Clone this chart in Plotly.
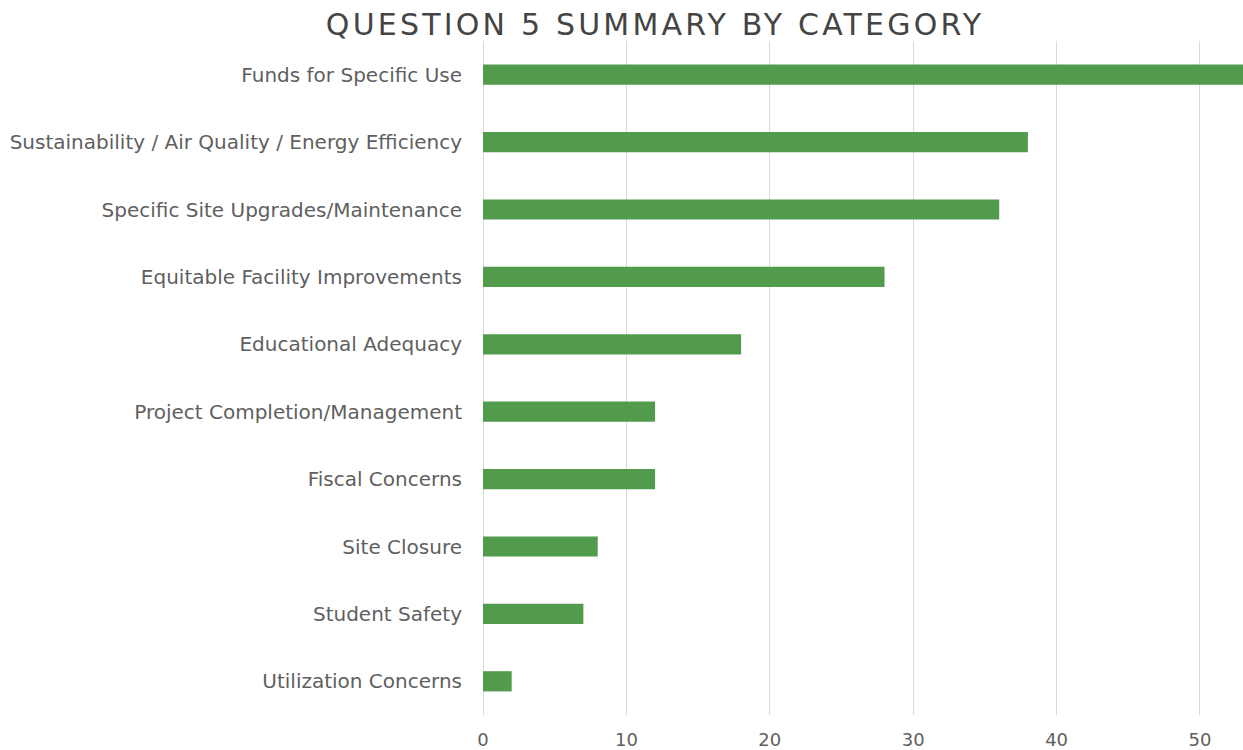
import plotly.graph_objects as go

categories = [
    "Funds for Specific Use",
    "Sustainability / Air Quality / Energy Efficiency",
    "Specific Site Upgrades/Maintenance",
    "Equitable Facility Improvements",
    "Educational Adequacy",
    "Project Completion/Management",
    "Fiscal Concerns",
    "Site Closure",
    "Student Safety",
    "Utilization Concerns",
]
values = [53, 38, 36, 28, 18, 12, 12, 8, 7, 2]
x_ticks = [0, 10, 20, 30, 40, 50]
title_text = "QUESTION 5 SUMMARY BY CATEGORY"

FONT = "DejaVu Sans, Verdana, sans-serif"

fig = go.Figure(go.Bar(
    x=values,
    y=categories,
    orientation="h",
    marker=dict(color="#529A4C", line=dict(width=0)),
    width=0.3,
))

fig.update_layout(
    width=1243, height=750,
    margin=dict(l=483, r=0, t=41, b=35),
    paper_bgcolor="white", plot_bgcolor="white",
    font=dict(family=FONT, color="#5f5f5f", size=20),
    title=dict(
        text=f'<span style="letter-spacing:3.2px">{title_text}</span>',
        x=655 / 1243, xref="container", xanchor="center",
        y=1 - 24 / 750, yref="container", yanchor="middle",
        font=dict(size=30, color="#444444", family=FONT),
    ),
    showlegend=False,
    bargap=0.7,
)
fig.update_xaxes(
    range=[0, 53], tickvals=x_ticks, showgrid=True, gridcolor="#d9d9d9",
    gridwidth=1, zeroline=True, zerolinecolor="#d9d9d9", zerolinewidth=1,
    showline=False, ticks="", ticklabelstandoff=12,
    tickfont=dict(size=18, color="#5f5f5f"),
    fixedrange=True,
)
fig.update_yaxes(
    categoryorder="array", categoryarray=categories[::-1],
    showgrid=False, showline=False, ticks="", ticklabelstandoff=20,
    tickfont=dict(size=20, color="#5f5f5f"), fixedrange=True,
)

fig.write_html(
    "out.html",
    config={"displayModeBar": False},
    post_script="document.body.style.margin='0';document.body.style.overflow='hidden';",
)
